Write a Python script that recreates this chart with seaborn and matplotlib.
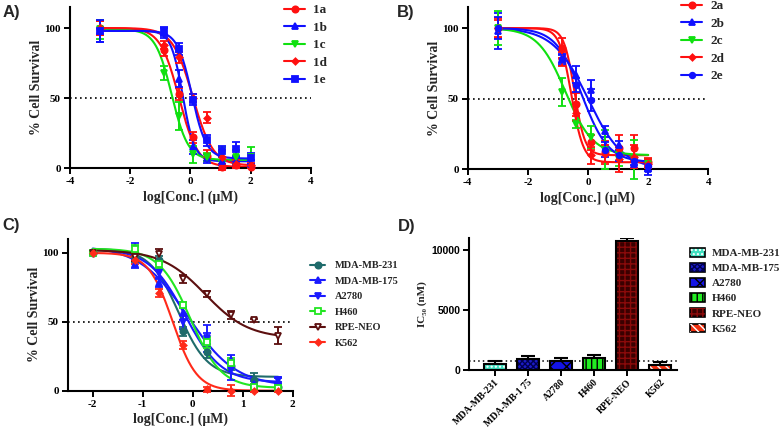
import numpy as np
import pandas as pd
import matplotlib
matplotlib.use("Agg")
import matplotlib.pyplot as plt
import seaborn as sns
from matplotlib.lines import Line2D
from matplotlib.patches import Patch, Rectangle

# ---------------- data ----------------
# Panel A
A_x = [-3.0, -0.863, -0.385, 0.092, 0.569, 1.046, 1.523, 2.0]
A_names = ["1a", "1b", "1c", "1d", "1e"]
A_1a = [100, 84, 53, 22, 9, 1, 2, 1]
A_1b = [98, 97, 64, 15, 7, 5, 5, 3]
A_1c = [99, 68, 37, 10, 8, 10, 8, 8]
A_1d = [100, 88, 79, 50, 36, 8, 3, 2]
A_1e = [98, 97, 85, 49, 20, 12, 14, 7]
A_err_1a = [5, 4, 4, 4, 4, 2, 2, 1]
A_err_1b = [8, 4, 6, 5, 3, 3, 3, 3]
A_err_1c = [7, 5, 10, 6, 3, 5, 5, 7]
A_err_1d = [5, 3, 4, 3, 4, 5, 3, 2]
A_err_1e = [8, 3, 4, 4, 4, 4, 5, 4]
# fitted 4PL parameters: top, bottom, logIC50, hill
A_fit_top = [100, 98, 99, 100, 98]
A_fit_bottom = [1, 5, 6, 2, 7]
A_fit_logic50 = [-0.38, -0.25, -0.62, 0.08, 0.05]
A_fit_hill = [1.4, 2.2, 1.6, 1.3, 1.8]

# Panel B
B_x = [-3.0, -0.863, -0.385, 0.092, 0.569, 1.046, 1.523, 2.0]
B_names = ["2a", "2b", "2c", "2d", "2e"]
B_2a = [100, 86, 46, 19, 12, 15, 15, 5]
B_2b = [98, 78, 67, 56, 27, 17, 4, 0]
B_2c = [100, 55, 32, 23, 14, 7, 7, 4]
B_2d = [100, 78, 40, 10, 11, 7, 9, 4]
B_2e = [100, 78, 60, 49, 14, 10, 6, 2]
B_err_2a = [6, 7, 8, 5, 8, 9, 9, 3]
B_err_2b = [13, 4, 6, 7, 4, 3, 3, 4]
B_err_2c = [12, 10, 3, 8, 14, 5, 14, 3]
B_err_2d = [7, 5, 6, 6, 6, 9, 8, 3]
B_err_2e = [8, 3, 5, 8, 5, 4, 3, 3]
B_fit_top = [100, 100, 100, 100, 100]
B_fit_bottom = [10, 0, 10, 5, 5]
B_fit_logic50 = [-0.45, 0.0, -0.75, -0.55, -0.2]
B_fit_hill = [2.5, 0.75, 0.95, 2.2, 1.0]

# Panel C
C_x = [-2.0, -1.152, -0.675, -0.198, 0.279, 0.756, 1.233, 1.71]
C_names = ["MDA-MB-231", "MDA-MB-175", "A2780", "H460", "RPE-NEO", "K562"]
C_mda231 = [100, 97, 95, 43, 28, 18, 8, 3]
C_mda175 = [100, 92, 78, 56, 38, 22, 5, 7]
C_a2780 = [100, 103, 85, 50, 38, 15, 2, 8]
C_h460 = [100, 103, 92, 62, 35, 20, 3, 2]
C_rpe = [100, 97, 99, 81, 70, 55, 51, 40]
C_k562 = [100, 95, 71, 33, 1, 0, 0, 0]
C_err_mda231 = [1, 4, 3, 3, 4, 3, 5, 2]
C_err_mda175 = [1, 3, 3, 5, 4, 4, 2, 2]
C_err_a2780 = [1, 4, 3, 5, 10, 7, 3, 2]
C_err_h460 = [1, 3, 3, 2, 4, 4, 2, 2]
C_err_rpe = [1, 3, 4, 3, 2, 3, 1, 6]
C_err_k562 = [1, 3, 3, 3, 2, 4, 1, 1]
C_fit_top = [103, 105, 103, 103, 102, 100]
C_fit_bottom = [10, 3, 6, 2, 38, 0]
C_fit_logic50 = [-0.28, -0.1, -0.15, -0.05, 0.25, -0.4]
C_fit_hill = [1.5, 0.9, 1.2, 1.4, 1.0, 1.8]

# Panel D
D_names = ["MDA-MB-231", "MDA-MB-175", "A2780", "H460", "RPE-NEO", "K562"]
D_ticklabels = ["MDA-MB-231", "MDA-MB-1 75", "A2780", "H460", "RPE-NEO", "K562"]
D_ic50 = [530, 920, 760, 980, 10750, 390]
D_err = [250, 270, 230, 300, 200, 270]
D_ref = 780

# ---------------- style ----------------
sns.set_theme(style="ticks")
SERIF = ["Liberation Serif", "DejaVu Serif"]
SANS = ["Liberation Sans", "DejaVu Sans"]
plt.rcParams["font.family"] = SERIF
plt.rcParams["font.weight"] = "bold"
plt.rcParams["axes.labelweight"] = "bold"
plt.rcParams["axes.linewidth"] = 1.5
plt.rcParams["xtick.major.width"] = 1.4
plt.rcParams["ytick.major.width"] = 1.4
plt.rcParams["xtick.major.size"] = 4
plt.rcParams["ytick.major.size"] = 4
plt.rcParams["xtick.major.pad"] = 2.5
plt.rcParams["ytick.major.pad"] = 2.5
plt.rcParams["xtick.color"] = "black"
plt.rcParams["ytick.color"] = "black"
plt.rcParams["axes.edgecolor"] = "black"
plt.rcParams["hatch.linewidth"] = 1.0

W, H = 782, 430
fig = plt.figure(figsize=(W / 100, H / 100), dpi=100)


def rect(l, t, r, b):
    return [l / W, 1 - b / H, (r - l) / W, (b - t) / H]


def four_pl(x, top, bottom, logic50, hill):
    return bottom + (top - bottom) / (1 + 10 ** ((x - logic50) * hill))


def curve_panel(ax, xs, names, ys, errs, colors, markers, mfcs, sizes, fits, xlim, ylim,
                xticks):
    tops, bots, ics, hills = fits
    rows = []
    grid = np.linspace(min(xs), max(xs), 300)
    for i, n in enumerate(names):
        yy = four_pl(grid, tops[i], bots[i], ics[i], hills[i])
        rows.append(pd.DataFrame({"x": grid, "y": yy, "series": n}))
    df = pd.concat(rows)
    sns.lineplot(data=df, x="x", y="y", hue="series", palette=dict(zip(names, colors)),
                 ax=ax, legend=False, linewidth=1.5, sort=False, estimator=None)
    for i, n in enumerate(names):
        ax.errorbar(xs, ys[i], yerr=errs[i], fmt=markers[i], color=colors[i],
                    mfc=mfcs[i], mec=colors[i], mew=1.3, ms=sizes[i], elinewidth=1.4,
                    capsize=3, capthick=1.4, clip_on=False, zorder=3)
    ax.axhline(50, color="black", ls=(0, (1, 2)), lw=1.2, zorder=1)
    ax.set_xlim(*xlim)
    ax.set_ylim(*ylim)
    ax.set_xticks(xticks)
    ax.set_yticks([0, 50, 100])
    ax.set_xticklabels([f"{t:g}" for t in xticks])
    sns.despine(ax=ax)
    ax.tick_params(axis="both", labelsize=8, direction="out")
    for lab in ax.get_xticklabels() + ax.get_yticklabels():
        lab.set_fontweight("bold")
    ax.set_xlabel("log[Conc.] (μM)", fontsize=10, fontweight="bold", labelpad=3)
    ax.set_ylabel("% Cell Survival", fontsize=10, fontweight="bold", labelpad=1)


def make_handles(colors, markers, mfcs, sizes):
    return [Line2D([0], [0], color=c, marker=m, mfc=f, mec=c, ms=s, lw=1.5, mew=1.3)
            for c, m, f, s in zip(colors, markers, mfcs, sizes)]


# ---------------- Panel A ----------------
axA = fig.add_axes(rect(70, 7, 310.7, 168.3))
A_colors = ["#ff1010", "#1010ff", "#10e010", "#ff1010", "#1010ff"]
A_markers = ["o", "^", "v", "D", "s"]
A_sizes = [4.5, 4.5, 4.5, 3.2, 4.0]
curve_panel(axA, A_x, A_names, [A_1a, A_1b, A_1c, A_1d, A_1e],
            [A_err_1a, A_err_1b, A_err_1c, A_err_1d, A_err_1e],
            A_colors, A_markers, A_colors, A_sizes,
            (A_fit_top, A_fit_bottom, A_fit_logic50, A_fit_hill),
            (-4, 4), (0, 115), [-4, -2, 0, 2, 4])
axA.legend(make_handles(A_colors, A_markers, A_colors, A_sizes), A_names, loc="upper left",
           bbox_to_anchor=(284 / W, 1 - 4 / H), bbox_transform=fig.transFigure,
           frameon=False, handlelength=1.6, handletextpad=0.6,
           labelspacing=0.4, borderpad=0, borderaxespad=0,
           prop={"family": SERIF, "weight": "bold", "size": 9.5})

# ---------------- Panel B ----------------
axB = fig.add_axes(rect(467.7, 7, 708.3, 169.3))
B_colors = ["#ff1010", "#1010ff", "#10e010", "#ff1010", "#1010ff"]
B_markers = ["o", "^", "v", "D", "o"]
B_sizes = [4.5, 4.5, 4.5, 3.2, 4.0]
curve_panel(axB, B_x, B_names, [B_2a, B_2b, B_2c, B_2d, B_2e],
            [B_err_2a, B_err_2b, B_err_2c, B_err_2d, B_err_2e],
            B_colors, B_markers, B_colors, B_sizes,
            (B_fit_top, B_fit_bottom, B_fit_logic50, B_fit_hill),
            (-4, 4), (0, 115), [-4, -2, 0, 2, 4])
axB.legend(make_handles(B_colors, B_markers, B_colors, B_sizes), B_names, loc="upper left",
           bbox_to_anchor=(681 / W, 1 - 0 / H), bbox_transform=fig.transFigure,
           frameon=False, handlelength=1.6, handletextpad=0.6,
           labelspacing=0.4, borderpad=0, borderaxespad=0,
           prop={"family": SERIF, "weight": "bold", "size": 9.5})

# ---------------- Panel C ----------------
axC = fig.add_axes(rect(67.7, 239, 292.7, 390.7))
C_colors = ["#1f6b6b", "#1a1aff", "#1a1aff", "#22e622", "#5c0f0f", "#ff2a1a"]
C_markers = ["o", "^", "v", "s", "v", "D"]
C_mfcs = ["#1f6b6b", "#1a1aff", "#1a1aff", "white", "white", "#ff2a1a"]
C_sizes = [4.5, 4.5, 4.5, 5.0, 5.0, 3.2]
curve_panel(axC, C_x, C_names, [C_mda231, C_mda175, C_a2780, C_h460, C_rpe, C_k562],
            [C_err_mda231, C_err_mda175, C_err_a2780, C_err_h460, C_err_rpe, C_err_k562],
            C_colors, C_markers, C_mfcs, C_sizes,
            (C_fit_top, C_fit_bottom, C_fit_logic50, C_fit_hill),
            (-2.5, 2), (0, 110), [-2, -1, 0, 1, 2])
axC.legend(make_handles(C_colors, C_markers, C_mfcs, C_sizes), C_names, loc="upper left",
           bbox_to_anchor=(310 / W, 1 - 261 / H), bbox_transform=fig.transFigure,
           frameon=False, handlelength=1.45, handletextpad=0.95,
           labelspacing=0.6, borderpad=0, borderaxespad=0,
           prop={"family": SERIF, "weight": "bold", "size": 7.5})

# ---------------- Panel D ----------------
axD = fig.add_axes(rect(469.3, 237.7, 676.7, 370))
D_colors = ["#3fe0c0", "#1c1cc8", "#1414e6", "#22ee22", "#3a0000", "#f03010"]
D_hatches = ["....", "xxxxxx", "xx", "|||", "+++", "\\\\\\\\"]
D_hatchcolors = ["white", "#000050", "black", "black", "#8a0a0a", "white"]
dfD = pd.DataFrame({"cell": D_names, "ic50": D_ic50})
sns.barplot(data=dfD, x="cell", y="ic50", hue="cell", palette=dict(zip(D_names, D_colors)),
            ax=axD, width=0.66, saturation=1, legend=False, edgecolor="none",
            linewidth=0, errorbar=None, zorder=2)
bars = [p for p in axD.patches]
for p, h, hc in zip(bars, D_hatches, D_hatchcolors):
    xy, w, hh = p.get_xy(), p.get_width(), p.get_height()
    axD.add_patch(Rectangle(xy, w, hh, fill=False, hatch=h, edgecolor=hc, lw=0, zorder=2.1))
    axD.add_patch(Rectangle(xy, w, hh, fill=False, edgecolor="black", lw=1.5, zorder=2.2))
axD.errorbar(range(len(D_names)), D_ic50, yerr=[np.zeros(len(D_err)), D_err], fmt="none",
             ecolor="black", elinewidth=1.5, capsize=5, capthick=1.5, zorder=1.8)
axD.axhline(D_ref, color="black", ls=(0, (1, 2)), lw=1.1, zorder=1)
axD.set_xlim(-0.77, 5.5)
axD.set_ylim(0, 11000)
axD.set_yticks([0, 5000, 10000])
axD.set_yticklabels(["0", "5000", "10000"], fontfamily=SANS, fontweight="bold", fontsize=7.5)
axD.set_xticks(range(len(D_names)))
axD.set_xticklabels(D_ticklabels, rotation=45, ha="right", rotation_mode="anchor",
                    fontsize=7, fontweight="bold", fontfamily=SERIF)
axD.set_xlabel("")
axD.set_ylabel("IC₅₀ (nM)", fontsize=8, fontweight="bold", labelpad=3)
sns.despine(ax=axD)
axD.tick_params(axis="both", direction="out")
axD.tick_params(axis="x", pad=1.5)

D_handles = [(Patch(facecolor=c, edgecolor="black", lw=1.2),
              Patch(fill=False, hatch=h, edgecolor=hc, lw=0))
             for c, h, hc in zip(D_colors, D_hatches, D_hatchcolors)]
axD.legend(D_handles, D_names, loc="upper left",
           bbox_to_anchor=(690 / W, 1 - 248 / H), bbox_transform=fig.transFigure,
           frameon=False, handlelength=1.35, handleheight=0.8, handletextpad=0.6,
           labelspacing=0.45, borderpad=0, borderaxespad=0,
           prop={"family": SERIF, "weight": "bold", "size": 8})

# panel letters
for lab, x, y in [("A)", 3, 13), ("B)", 397, 13), ("C)", 2, 225), ("D)", 398, 227)]:
    fig.text(x / W, 1 - y / H, lab, fontfamily=SANS, fontweight="bold", fontsize=12,
             ha="left", va="center")

fig.savefig("out.png", dpi=100)
